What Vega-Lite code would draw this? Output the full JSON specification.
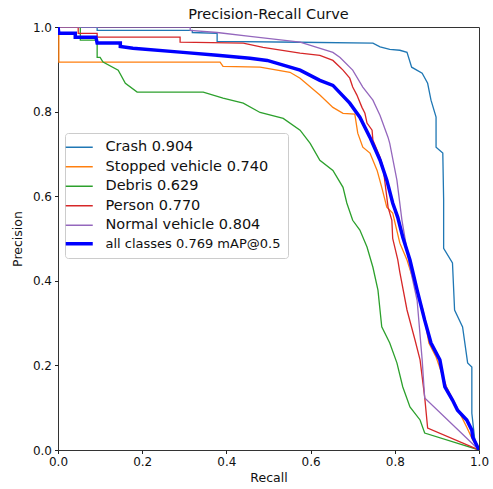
{
  "$schema": "https://vega.github.io/schema/vega-lite/v6.json",
  "width": 421,
  "height": 423,
  "autosize": {"type": "none"},
  "padding": {"left": 58, "top": 27, "right": 14, "bottom": 39},
  "background": "white",
  "config": {
    "font": "DejaVu Sans",
    "view": {"stroke": "#333333", "strokeWidth": 1},
    "axis": {"grid": false, "domain": false, "tickColor": "#222222", "tickSize": 3.5, "labelFontSize": 12, "labelColor": "#111111", "titleFontSize": 12.5, "titleFontWeight": "normal", "titleColor": "#111111", "labelFlush": false, "labelPadding": 3}
  },
  "title": {"text": "Precision-Recall Curve", "fontSize": 14.5, "fontWeight": "normal", "color": "#111111", "frame": "group", "offset": -1},
  "data": {"values": [
    {"s":"Crash 0.904","i":0,"r":0,"p":1},{"s":"Crash 0.904","i":1,"r":0.093,"p":1},{"s":"Crash 0.904","i":2,"r":0.093,"p":0.992},{"s":"Crash 0.904","i":3,"r":0.319,"p":0.992},{"s":"Crash 0.904","i":4,"r":0.319,"p":0.987},{"s":"Crash 0.904","i":5,"r":0.378,"p":0.985},{"s":"Crash 0.904","i":6,"r":0.378,"p":0.966},{"s":"Crash 0.904","i":7,"r":0.575,"p":0.964},{"s":"Crash 0.904","i":8,"r":0.748,"p":0.962},{"s":"Crash 0.904","i":9,"r":0.765,"p":0.953},{"s":"Crash 0.904","i":10,"r":0.788,"p":0.947},{"s":"Crash 0.904","i":11,"r":0.812,"p":0.945},{"s":"Crash 0.904","i":12,"r":0.829,"p":0.94},{"s":"Crash 0.904","i":13,"r":0.84,"p":0.905},{"s":"Crash 0.904","i":14,"r":0.865,"p":0.891},{"s":"Crash 0.904","i":15,"r":0.878,"p":0.867},{"s":"Crash 0.904","i":16,"r":0.886,"p":0.827},{"s":"Crash 0.904","i":17,"r":0.898,"p":0.787},{"s":"Crash 0.904","i":18,"r":0.898,"p":0.716},{"s":"Crash 0.904","i":19,"r":0.914,"p":0.702},{"s":"Crash 0.904","i":20,"r":0.916,"p":0.591},{"s":"Crash 0.904","i":21,"r":0.916,"p":0.477},{"s":"Crash 0.904","i":22,"r":0.937,"p":0.442},{"s":"Crash 0.904","i":23,"r":0.942,"p":0.331},{"s":"Crash 0.904","i":24,"r":0.961,"p":0.291},{"s":"Crash 0.904","i":25,"r":0.973,"p":0.206},{"s":"Crash 0.904","i":26,"r":0.983,"p":0.196},{"s":"Crash 0.904","i":27,"r":0.983,"p":0.087},{"s":"Crash 0.904","i":28,"r":0.99,"p":0.024},{"s":"Crash 0.904","i":29,"r":1,"p":0},

    {"s":"Stopped vehicle 0.740","i":0,"r":0,"p":1},{"s":"Stopped vehicle 0.740","i":1,"r":0.002,"p":1},{"s":"Stopped vehicle 0.740","i":2,"r":0.002,"p":0.917},{"s":"Stopped vehicle 0.740","i":3,"r":0.385,"p":0.917},{"s":"Stopped vehicle 0.740","i":4,"r":0.392,"p":0.907},{"s":"Stopped vehicle 0.740","i":5,"r":0.48,"p":0.905},{"s":"Stopped vehicle 0.740","i":6,"r":0.551,"p":0.893},{"s":"Stopped vehicle 0.740","i":7,"r":0.575,"p":0.879},{"s":"Stopped vehicle 0.740","i":8,"r":0.622,"p":0.839},{"s":"Stopped vehicle 0.740","i":9,"r":0.653,"p":0.81},{"s":"Stopped vehicle 0.740","i":10,"r":0.677,"p":0.796},{"s":"Stopped vehicle 0.740","i":11,"r":0.705,"p":0.794},{"s":"Stopped vehicle 0.740","i":12,"r":0.712,"p":0.749},{"s":"Stopped vehicle 0.740","i":13,"r":0.724,"p":0.716},{"s":"Stopped vehicle 0.740","i":14,"r":0.741,"p":0.702},{"s":"Stopped vehicle 0.740","i":15,"r":0.758,"p":0.661},{"s":"Stopped vehicle 0.740","i":16,"r":0.769,"p":0.621},{"s":"Stopped vehicle 0.740","i":17,"r":0.781,"p":0.574},{"s":"Stopped vehicle 0.740","i":18,"r":0.795,"p":0.56},{"s":"Stopped vehicle 0.740","i":19,"r":0.812,"p":0.489},{"s":"Stopped vehicle 0.740","i":20,"r":0.829,"p":0.449},{"s":"Stopped vehicle 0.740","i":21,"r":0.867,"p":0.331},{"s":"Stopped vehicle 0.740","i":22,"r":0.881,"p":0.253},{"s":"Stopped vehicle 0.740","i":23,"r":0.898,"p":0.22},{"s":"Stopped vehicle 0.740","i":24,"r":0.923,"p":0.149},{"s":"Stopped vehicle 0.740","i":25,"r":0.947,"p":0.102},{"s":"Stopped vehicle 0.740","i":26,"r":0.971,"p":0.054},{"s":"Stopped vehicle 0.740","i":27,"r":0.985,"p":0.024},{"s":"Stopped vehicle 0.740","i":28,"r":1,"p":0},

    {"s":"Debris 0.629","i":0,"r":0,"p":1},{"s":"Debris 0.629","i":1,"r":0.053,"p":1},{"s":"Debris 0.629","i":2,"r":0.053,"p":0.969},{"s":"Debris 0.629","i":3,"r":0.093,"p":0.969},{"s":"Debris 0.629","i":4,"r":0.093,"p":0.928},{"s":"Debris 0.629","i":5,"r":0.1,"p":0.928},{"s":"Debris 0.629","i":6,"r":0.107,"p":0.917},{"s":"Debris 0.629","i":7,"r":0.143,"p":0.898},{"s":"Debris 0.629","i":8,"r":0.16,"p":0.867},{"s":"Debris 0.629","i":9,"r":0.188,"p":0.846},{"s":"Debris 0.629","i":10,"r":0.345,"p":0.846},{"s":"Debris 0.629","i":11,"r":0.392,"p":0.832},{"s":"Debris 0.629","i":12,"r":0.44,"p":0.82},{"s":"Debris 0.629","i":13,"r":0.48,"p":0.798},{"s":"Debris 0.629","i":14,"r":0.535,"p":0.784},{"s":"Debris 0.629","i":15,"r":0.575,"p":0.756},{"s":"Debris 0.629","i":16,"r":0.599,"p":0.725},{"s":"Debris 0.629","i":17,"r":0.622,"p":0.685},{"s":"Debris 0.629","i":18,"r":0.653,"p":0.661},{"s":"Debris 0.629","i":19,"r":0.677,"p":0.621},{"s":"Debris 0.629","i":20,"r":0.686,"p":0.584},{"s":"Debris 0.629","i":21,"r":0.7,"p":0.543},{"s":"Debris 0.629","i":22,"r":0.717,"p":0.52},{"s":"Debris 0.629","i":23,"r":0.734,"p":0.48},{"s":"Debris 0.629","i":24,"r":0.748,"p":0.432},{"s":"Debris 0.629","i":25,"r":0.76,"p":0.378},{"s":"Debris 0.629","i":26,"r":0.769,"p":0.291},{"s":"Debris 0.629","i":27,"r":0.788,"p":0.253},{"s":"Debris 0.629","i":28,"r":0.805,"p":0.206},{"s":"Debris 0.629","i":29,"r":0.819,"p":0.149},{"s":"Debris 0.629","i":30,"r":0.836,"p":0.102},{"s":"Debris 0.629","i":31,"r":0.86,"p":0.071},{"s":"Debris 0.629","i":32,"r":0.871,"p":0.04},{"s":"Debris 0.629","i":33,"r":1,"p":0},

    {"s":"Person 0.770","i":0,"r":0,"p":1},{"s":"Person 0.770","i":1,"r":0.048,"p":1},{"s":"Person 0.770","i":2,"r":0.048,"p":0.985},{"s":"Person 0.770","i":3,"r":0.093,"p":0.985},{"s":"Person 0.770","i":4,"r":0.093,"p":0.976},{"s":"Person 0.770","i":5,"r":0.29,"p":0.976},{"s":"Person 0.770","i":6,"r":0.29,"p":0.964},{"s":"Person 0.770","i":7,"r":0.44,"p":0.962},{"s":"Person 0.770","i":8,"r":0.487,"p":0.952},{"s":"Person 0.770","i":9,"r":0.575,"p":0.938},{"s":"Person 0.770","i":10,"r":0.622,"p":0.933},{"s":"Person 0.770","i":11,"r":0.653,"p":0.921},{"s":"Person 0.770","i":12,"r":0.67,"p":0.905},{"s":"Person 0.770","i":13,"r":0.677,"p":0.898},{"s":"Person 0.770","i":14,"r":0.693,"p":0.879},{"s":"Person 0.770","i":15,"r":0.7,"p":0.858},{"s":"Person 0.770","i":16,"r":0.71,"p":0.839},{"s":"Person 0.770","i":17,"r":0.722,"p":0.81},{"s":"Person 0.770","i":18,"r":0.729,"p":0.796},{"s":"Person 0.770","i":19,"r":0.734,"p":0.773},{"s":"Person 0.770","i":20,"r":0.746,"p":0.756},{"s":"Person 0.770","i":21,"r":0.748,"p":0.732},{"s":"Person 0.770","i":22,"r":0.765,"p":0.692},{"s":"Person 0.770","i":23,"r":0.772,"p":0.669},{"s":"Person 0.770","i":24,"r":0.784,"p":0.574},{"s":"Person 0.770","i":25,"r":0.793,"p":0.543},{"s":"Person 0.770","i":26,"r":0.795,"p":0.5},{"s":"Person 0.770","i":27,"r":0.807,"p":0.45},{"s":"Person 0.770","i":28,"r":0.812,"p":0.42},{"s":"Person 0.770","i":29,"r":0.829,"p":0.331},{"s":"Person 0.770","i":30,"r":0.848,"p":0.26},{"s":"Person 0.770","i":31,"r":0.86,"p":0.213},{"s":"Person 0.770","i":32,"r":0.871,"p":0.125},{"s":"Person 0.770","i":33,"r":0.878,"p":0.052},{"s":"Person 0.770","i":34,"r":1,"p":0},

    {"s":"Normal vehicle 0.804","i":0,"r":0,"p":1},{"s":"Normal vehicle 0.804","i":1,"r":0.314,"p":1},{"s":"Normal vehicle 0.804","i":2,"r":0.314,"p":0.992},{"s":"Normal vehicle 0.804","i":3,"r":0.378,"p":0.987},{"s":"Normal vehicle 0.804","i":4,"r":0.456,"p":0.978},{"s":"Normal vehicle 0.804","i":5,"r":0.575,"p":0.964},{"s":"Normal vehicle 0.804","i":6,"r":0.653,"p":0.94},{"s":"Normal vehicle 0.804","i":7,"r":0.67,"p":0.928},{"s":"Normal vehicle 0.804","i":8,"r":0.7,"p":0.898},{"s":"Normal vehicle 0.804","i":9,"r":0.724,"p":0.858},{"s":"Normal vehicle 0.804","i":10,"r":0.748,"p":0.827},{"s":"Normal vehicle 0.804","i":11,"r":0.765,"p":0.791},{"s":"Normal vehicle 0.804","i":12,"r":0.784,"p":0.739},{"s":"Normal vehicle 0.804","i":13,"r":0.788,"p":0.725},{"s":"Normal vehicle 0.804","i":14,"r":0.805,"p":0.638},{"s":"Normal vehicle 0.804","i":15,"r":0.817,"p":0.543},{"s":"Normal vehicle 0.804","i":16,"r":0.836,"p":0.432},{"s":"Normal vehicle 0.804","i":17,"r":0.853,"p":0.354},{"s":"Normal vehicle 0.804","i":18,"r":0.865,"p":0.213},{"s":"Normal vehicle 0.804","i":19,"r":0.871,"p":0.123},{"s":"Normal vehicle 0.804","i":20,"r":1,"p":0},

    {"s":"all classes 0.769 mAP@0.5","i":0,"r":0,"p":1},{"s":"all classes 0.769 mAP@0.5","i":1,"r":0.002,"p":0.985},{"s":"all classes 0.769 mAP@0.5","i":2,"r":0.041,"p":0.985},{"s":"all classes 0.769 mAP@0.5","i":3,"r":0.041,"p":0.976},{"s":"all classes 0.769 mAP@0.5","i":4,"r":0.09,"p":0.976},{"s":"all classes 0.769 mAP@0.5","i":5,"r":0.093,"p":0.962},{"s":"all classes 0.769 mAP@0.5","i":6,"r":0.148,"p":0.962},{"s":"all classes 0.769 mAP@0.5","i":7,"r":0.148,"p":0.954},{"s":"all classes 0.769 mAP@0.5","i":8,"r":0.178,"p":0.95},{"s":"all classes 0.769 mAP@0.5","i":9,"r":0.297,"p":0.94},{"s":"all classes 0.769 mAP@0.5","i":10,"r":0.378,"p":0.933},{"s":"all classes 0.769 mAP@0.5","i":11,"r":0.456,"p":0.926},{"s":"all classes 0.769 mAP@0.5","i":12,"r":0.497,"p":0.921},{"s":"all classes 0.769 mAP@0.5","i":13,"r":0.535,"p":0.91},{"s":"all classes 0.769 mAP@0.5","i":14,"r":0.575,"p":0.898},{"s":"all classes 0.769 mAP@0.5","i":15,"r":0.622,"p":0.874},{"s":"all classes 0.769 mAP@0.5","i":16,"r":0.653,"p":0.862},{"s":"all classes 0.769 mAP@0.5","i":17,"r":0.693,"p":0.82},{"s":"all classes 0.769 mAP@0.5","i":18,"r":0.717,"p":0.787},{"s":"all classes 0.769 mAP@0.5","i":19,"r":0.741,"p":0.739},{"s":"all classes 0.769 mAP@0.5","i":20,"r":0.765,"p":0.685},{"s":"all classes 0.769 mAP@0.5","i":21,"r":0.781,"p":0.638},{"s":"all classes 0.769 mAP@0.5","i":22,"r":0.795,"p":0.584},{"s":"all classes 0.769 mAP@0.5","i":23,"r":0.807,"p":0.55},{"s":"all classes 0.769 mAP@0.5","i":24,"r":0.819,"p":0.503},{"s":"all classes 0.769 mAP@0.5","i":25,"r":0.836,"p":0.449},{"s":"all classes 0.769 mAP@0.5","i":26,"r":0.853,"p":0.378},{"s":"all classes 0.769 mAP@0.5","i":27,"r":0.871,"p":0.307},{"s":"all classes 0.769 mAP@0.5","i":28,"r":0.886,"p":0.253},{"s":"all classes 0.769 mAP@0.5","i":29,"r":0.907,"p":0.213},{"s":"all classes 0.769 mAP@0.5","i":30,"r":0.919,"p":0.149},{"s":"all classes 0.769 mAP@0.5","i":31,"r":0.937,"p":0.118},{"s":"all classes 0.769 mAP@0.5","i":32,"r":0.949,"p":0.094},{"s":"all classes 0.769 mAP@0.5","i":33,"r":0.971,"p":0.071},{"s":"all classes 0.769 mAP@0.5","i":34,"r":0.983,"p":0.047},{"s":"all classes 0.769 mAP@0.5","i":35,"r":0.985,"p":0.031},{"s":"all classes 0.769 mAP@0.5","i":36,"r":1,"p":0}
  ]},
  "encoding": {
    "x": {"field": "r", "type": "quantitative", "title": "Recall", "scale": {"domain": [0, 1], "nice": false, "zero": false}, "axis": {"values": [0, 0.2, 0.4, 0.6, 0.8, 1], "format": ".1f", "titlePadding": 4}},
    "y": {"field": "p", "type": "quantitative", "title": "Precision", "scale": {"domain": [0, 1], "nice": false, "zero": false}, "axis": {"values": [0, 0.2, 0.4, 0.6, 0.8, 1], "format": ".1f", "titlePadding": 8}},
    "order": {"field": "i", "type": "quantitative"},
    "color": {"field": "s", "type": "nominal", "title": null,
      "scale": {"domain": ["Crash 0.904", "Stopped vehicle 0.740", "Debris 0.629", "Person 0.770", "Normal vehicle 0.804", "all classes 0.769 mAP@0.5"], "range": ["#1f77b4", "#ff7f0e", "#2ca02c", "#d62728", "#9467bd", "#0000ff"]},
      "legend": {"orient": "none", "legendX": 7, "legendY": 106, "symbolType": "stroke", "symbolSize": 729, "symbolStrokeWidth": 1.5, "labelFontSize": 14.5, "labelColor": "#111111", "labelOffset": 19, "rowPadding": 4.5, "padding": 7, "fillColor": "white", "strokeColor": "#cccccc", "cornerRadius": 3, "labelLimit": 300,
        "encode": {
          "symbols": {"update": {"strokeWidth": {"signal": "datum.value === 'all classes 0.769 mAP@0.5' ? 3.5 : 1.5"}}},
          "labels": {"update": {"fontSize": {"signal": "datum.value === 'all classes 0.769 mAP@0.5' ? 13 : 14.5"}}}
        }}
    }
  },
  "layer": [
    {"transform": [{"filter": "datum.s !== 'all classes 0.769 mAP@0.5'"}], "mark": {"type": "line", "strokeWidth": 1.3, "clip": true}},
    {"transform": [{"filter": "datum.s === 'all classes 0.769 mAP@0.5'"}], "mark": {"type": "line", "strokeWidth": 3.5, "clip": true}}
  ]
}
